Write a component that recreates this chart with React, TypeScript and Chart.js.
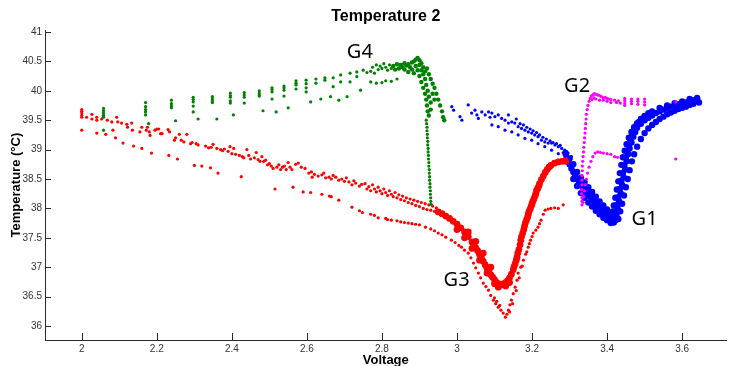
import React, { useEffect, useRef } from 'react';
import { Chart, registerables } from 'chart.js';

Chart.register(...registerables);

type Pt = [number, number];

const xTicks = [2, 2.2, 2.4, 2.6, 2.8, 3, 3.2, 3.4, 3.6];
const yTicks = [36, 36.5, 37, 37.5, 38, 38.5, 39, 39.5, 40, 40.5, 41];

const labelNames = ['G1', 'G2', 'G3', 'G4'];
const labelVolt = [3.5, 3.32, 2.999, 2.741];
const labelTemp = [37.82, 40.08, 36.77, 40.66];

// G3 (red) – upper band, sparse part
const g3Scatter: Pt[] = [
  [2.0, 39.68], [2.0, 39.65], [2.0, 39.62], [2.0, 39.58], [2.0, 39.55],
  [2.013, 39.55], [2.027, 39.6], [2.027, 39.52], [2.04, 39.55], [2.04, 39.5], [2.053, 39.52],
  [2.058, 39.57], [2.068, 39.5], [2.08, 39.47], [2.083, 39.33], [2.093, 39.55], [2.096, 39.47],
  [2.106, 39.45], [2.12, 39.43], [2.122, 39.38], [2.133, 39.45], [2.135, 39.33], [2.155, 39.3],
  [2.16, 39.38], [2.172, 39.33], [2.175, 39.38], [2.18, 39.3], [2.182, 39.24], [2.195, 39.33],
  [2.2, 39.35], [2.205, 39.35], [2.21, 39.27], [2.214, 39.27], [2.23, 39.34], [2.234, 39.3],
  [2.247, 39.16], [2.25, 39.2], [2.26, 39.26], [2.265, 39.16], [2.272, 39.13], [2.28, 39.26],
  [2.29, 39.1], [2.294, 39.12], [2.305, 39.1], [2.31, 39.08], [2.33, 39.06], [2.338, 39.03],
  [2.345, 39.04], [2.35, 39.09], [2.36, 39.02], [2.37, 39.0], [2.375, 38.98], [2.38, 39.01],
  [2.39, 38.97], [2.395, 39.05], [2.4, 38.93], [2.405, 39.02], [2.41, 38.92], [2.42, 38.9],
  [2.428, 38.88], [2.432, 38.86], [2.44, 39.0], [2.445, 38.9], [2.45, 38.84], [2.46, 38.86],
  [2.465, 38.95], [2.47, 38.83], [2.475, 38.8], [2.48, 38.88], [2.485, 38.8], [2.49, 38.82],
  [2.495, 38.74], [2.5, 38.76], [2.505, 38.72], [2.51, 38.68], [2.52, 38.7], [2.525, 38.74],
  [2.53, 38.66], [2.535, 38.7], [2.54, 38.72], [2.545, 38.66], [2.55, 38.78], [2.555, 38.7],
  [2.56, 38.66], [2.57, 38.75], [2.577, 38.77], [2.585, 38.7], [2.595, 38.68], [2.605, 38.6],
  [2.612, 38.62], [2.614, 38.53], [2.62, 38.58], [2.63, 38.55], [2.64, 38.57], [2.645, 38.6],
  [2.65, 38.52], [2.659, 38.53], [2.665, 38.5], [2.67, 38.56], [2.677, 38.53], [2.685, 38.48],
  [2.693, 38.5], [2.7, 38.46], [2.705, 38.52], [2.712, 38.45], [2.72, 38.4], [2.725, 38.47],
  [2.73, 38.43], [2.74, 38.38], [2.746, 38.41], [2.755, 38.42], [2.76, 38.33], [2.765, 38.37],
  [2.77, 38.3], [2.775, 38.4], [2.78, 38.33], [2.785, 38.28], [2.79, 38.36], [2.795, 38.3],
  [2.8, 38.25], [2.805, 38.33], [2.81, 38.27], [2.815, 38.22], [2.82, 38.3], [2.825, 38.24],
  [2.83, 38.2], [2.835, 38.27], [2.84, 38.18], [2.845, 38.23], [2.85, 38.15], [2.855, 38.21],
  [2.86, 38.13], [2.865, 38.18], [2.87, 38.1], [2.875, 38.16], [2.88, 38.08], [2.885, 38.14],
  [2.89, 38.05], [2.895, 38.12], [2.9, 38.03], [2.905, 38.1], [2.91, 38.0], [2.915, 38.08],
  [2.92, 37.98], [2.925, 38.06], [2.93, 37.97], [2.935, 38.04], [2.94, 37.95], [2.945, 38.01],
];

// G3 (red) – lower branch and stray low points
const g3Lower: Pt[] = [
  [2.0, 39.33], [2.04, 39.28], [2.064, 39.26], [2.09, 39.2], [2.11, 39.11], [2.138, 39.06],
  [2.16, 39.02], [2.186, 38.94], [2.232, 38.9], [2.255, 38.84], [2.3, 38.73], [2.32, 38.72],
  [2.343, 38.69], [2.363, 38.6], [2.425, 38.54], [2.515, 38.33], [2.563, 38.36], [2.59, 38.28],
  [2.61, 38.27], [2.64, 38.24], [2.66, 38.21], [2.665, 38.2], [2.685, 38.14], [2.72, 38.02],
  [2.74, 37.96], [2.748, 37.93], [2.77, 37.9], [2.78, 37.88], [2.79, 37.84], [2.81, 37.83],
  [2.815, 37.81], [2.825, 37.8], [2.84, 37.79], [2.85, 37.77], [2.86, 37.76], [2.87, 37.75],
  [2.88, 37.74], [2.89, 37.73], [2.9, 37.72], [2.916, 37.68], [2.93, 37.65], [2.94, 37.62],
  [2.95, 37.58], [2.96, 37.55], [2.97, 37.51], [2.985, 37.46], [2.995, 37.42], [3.005, 37.37],
  [3.012, 37.34], [3.02, 37.29], [3.03, 37.24], [3.037, 37.16], [3.044, 37.07], [3.05, 36.99],
  [3.057, 36.9], [3.063, 36.82], [3.07, 36.73], [3.077, 36.67], [3.084, 36.61], [3.09, 36.52],
  [3.097, 36.44], [3.103, 36.38], [3.11, 36.32], [3.117, 36.27], [3.123, 36.22], [3.129, 36.15],
  [3.133, 36.2], [3.137, 36.27], [3.141, 36.36], [3.145, 36.44], [3.15, 36.55], [3.155, 36.66],
  [3.16, 36.78], [3.163, 36.9], [3.17, 37.0], [3.177, 37.12], [3.183, 37.22], [3.19, 37.34],
  [3.196, 37.46], [3.203, 37.58], [3.21, 37.63], [3.216, 37.68], [3.22, 37.74], [3.224, 37.8],
  [3.23, 37.9], [3.235, 37.97], [3.243, 37.99], [3.25, 38.0], [3.26, 38.01], [3.27, 38.0],
  [3.283, 38.06], [3.1, 36.48], [3.106, 36.42], [3.114, 36.35], [3.14, 36.24], [3.148, 36.38],
  [3.158, 36.6], [3.166, 36.82], [3.174, 37.02], [3.186, 37.26], [3.193, 37.4], [3.2, 37.52],
];

// G3 (red) – dense V band
const g3Band: Pt[] = [
  [2.95, 37.94], [2.96, 37.91], [2.97, 37.87], [2.98, 37.83], [2.99, 37.78], [3.0, 37.73],
  [3.01, 37.67], [3.02, 37.6], [3.03, 37.52], [3.04, 37.43], [3.05, 37.33], [3.06, 37.22],
  [3.07, 37.1], [3.08, 36.98], [3.09, 36.87], [3.1, 36.79], [3.105, 36.74], [3.11, 36.72],
  [3.115, 36.7], [3.12, 36.7], [3.125, 36.72], [3.13, 36.74], [3.135, 36.77], [3.14, 36.82],
  [3.145, 36.88], [3.15, 36.96], [3.155, 37.06], [3.16, 37.17], [3.165, 37.3], [3.17, 37.46],
  [3.175, 37.58], [3.18, 37.7], [3.185, 37.8], [3.19, 37.9], [3.195, 37.99], [3.2, 38.08],
  [3.205, 38.16], [3.21, 38.25], [3.215, 38.34], [3.22, 38.42], [3.225, 38.49], [3.23, 38.55],
  [3.235, 38.61], [3.24, 38.66], [3.245, 38.7], [3.25, 38.73], [3.26, 38.77], [3.27, 38.79],
  [3.28, 38.8], [3.29, 38.8],
  [3.045, 37.38], [3.055, 37.28], [3.065, 37.16], [3.075, 37.04], [3.085, 36.92], [3.095, 36.83],
  [3.152, 37.01], [3.158, 37.12], [3.162, 37.24], [3.168, 37.38], [3.172, 37.52], [3.178, 37.64],
  [3.182, 37.75], [3.188, 37.85], [3.192, 37.95], [3.198, 38.04], [3.202, 38.12], [3.208, 38.21],
  [3.212, 38.3], [3.218, 38.38],
  [3.0, 37.64], [3.02, 37.5], [3.04, 37.32], [3.06, 37.12], [3.08, 36.9], [3.1, 36.72],
  [3.11, 36.66], [3.03, 37.6], [3.05, 37.44], [3.07, 37.24], [3.09, 37.0], [3.13, 36.68],
  [3.14, 36.74],
];

// G4 (green) – sparse columns on the left
const g4Scatter: Pt[] = [
  [2.058, 39.7], [2.058, 39.66], [2.058, 39.62], [2.058, 39.58], [2.058, 39.55], [2.058, 39.33],
  [2.17, 39.8], [2.17, 39.73], [2.17, 39.68], [2.17, 39.64], [2.17, 39.59], [2.178, 39.44],
  [2.239, 39.84], [2.239, 39.78], [2.239, 39.74], [2.239, 39.71], [2.25, 39.49],
  [2.297, 39.89], [2.297, 39.85], [2.297, 39.81], [2.297, 39.74], [2.297, 39.64], [2.31, 39.52],
  [2.348, 39.9], [2.348, 39.86], [2.348, 39.83], [2.348, 39.8], [2.36, 39.52],
  [2.396, 39.96], [2.396, 39.92], [2.396, 39.89], [2.396, 39.83], [2.396, 39.79], [2.404, 39.59],
  [2.433, 39.97], [2.433, 39.93], [2.433, 39.89], [2.433, 39.79],
  [2.473, 40.0], [2.473, 39.96], [2.473, 39.93], [2.473, 39.91], [2.483, 39.66],
  [2.507, 40.05], [2.507, 40.02], [2.507, 39.98], [2.507, 39.86], [2.518, 39.64],
  [2.539, 40.08], [2.539, 40.05], [2.539, 40.01], [2.539, 39.91], [2.55, 39.71],
  [2.571, 40.17], [2.571, 40.13], [2.571, 40.1], [2.571, 40.03],
  [2.598, 40.18], [2.598, 40.12], [2.598, 40.05], [2.598, 39.98], [2.61, 39.81],
  [2.624, 40.2], [2.624, 40.13], [2.637, 39.86], [2.648, 40.18], [2.648, 40.22], [2.663, 39.9],
  [2.67, 40.22], [2.67, 40.07], [2.685, 39.84], [2.69, 40.27], [2.69, 40.15], [2.707, 39.9],
  [2.715, 40.3], [2.715, 40.15], [2.733, 40.32], [2.733, 40.24], [2.743, 40.01],
  [2.75, 40.35], [2.76, 40.31], [2.77, 40.33], [2.775, 40.4], [2.78, 40.3], [2.785, 40.44],
  [2.79, 40.36], [2.795, 40.42], [2.8, 40.38], [2.805, 40.46], [2.81, 40.4], [2.815, 40.35],
  [2.82, 40.44], [2.825, 40.38], [2.77, 40.15], [2.785, 40.13], [2.8, 40.14], [2.81, 40.17],
  [2.825, 40.16], [2.84, 40.2],
];

// G4 (green) – peak cluster
const g4Peak: Pt[] = [
  [2.83, 40.42], [2.835, 40.36], [2.84, 40.45], [2.845, 40.38], [2.85, 40.44], [2.855, 40.4],
  [2.86, 40.47], [2.86, 40.36], [2.865, 40.43], [2.87, 40.45], [2.87, 40.32], [2.875, 40.4],
  [2.88, 40.48], [2.88, 40.36], [2.885, 40.5], [2.885, 40.3], [2.89, 40.53], [2.89, 40.42],
  [2.895, 40.56], [2.895, 40.35], [2.9, 40.52], [2.9, 40.44], [2.9, 40.25], [2.905, 40.47],
  [2.905, 40.35], [2.905, 40.15], [2.91, 40.4], [2.91, 40.28], [2.91, 40.05], [2.915, 40.33],
  [2.915, 40.2], [2.915, 39.95], [2.918, 40.1], [2.918, 39.85], [2.92, 40.38], [2.92, 39.75],
  [2.922, 40.0], [2.922, 39.65], [2.925, 40.28], [2.925, 39.9], [2.925, 39.58], [2.93, 40.2],
  [2.93, 39.8], [2.93, 39.68], [2.935, 40.12], [2.935, 39.95], [2.94, 40.05], [2.94, 39.85],
  [2.945, 39.95], [2.95, 39.85], [2.955, 39.75], [2.96, 39.65], [2.963, 39.55], [2.966, 39.5],
];

// G4 (green) – vertical drop
const g4Drop: Pt[] = [
  [2.918, 39.5], [2.919, 39.44], [2.92, 39.38], [2.92, 39.32], [2.921, 39.26], [2.921, 39.2],
  [2.922, 39.14], [2.922, 39.08], [2.923, 39.02], [2.923, 38.96], [2.924, 38.9], [2.924, 38.84],
  [2.925, 38.78], [2.925, 38.72], [2.926, 38.66], [2.926, 38.6], [2.927, 38.54], [2.927, 38.48],
  [2.928, 38.42], [2.928, 38.36], [2.929, 38.3], [2.929, 38.24], [2.93, 38.18], [2.93, 38.12],
  [2.931, 38.07],
];

// G1 (blue) – sparse upper-left part
const g1Scatter: Pt[] = [
  [2.986, 39.73], [2.991, 39.67], [3.008, 39.56], [3.013, 39.5], [3.03, 39.76], [3.039, 39.62],
  [3.048, 39.67], [3.053, 39.59], [3.057, 39.53], [3.066, 39.64], [3.075, 39.59], [3.084, 39.64],
  [3.088, 39.55], [3.093, 39.62], [3.093, 39.42], [3.101, 39.56], [3.11, 39.59], [3.11, 39.39],
  [3.119, 39.53], [3.128, 39.5], [3.128, 39.33], [3.137, 39.59], [3.137, 39.45], [3.146, 39.47],
  [3.146, 39.3], [3.154, 39.45], [3.158, 39.52], [3.163, 39.39], [3.163, 39.25], [3.168, 39.44],
  [3.172, 39.36], [3.177, 39.42], [3.181, 39.33], [3.181, 39.19], [3.186, 39.38], [3.19, 39.3],
  [3.195, 39.35], [3.199, 39.28], [3.199, 39.16], [3.203, 39.32], [3.207, 39.25], [3.212, 39.29],
  [3.216, 39.22], [3.216, 39.1], [3.22, 39.25], [3.225, 39.16], [3.229, 39.21], [3.234, 39.13],
  [3.234, 39.05], [3.238, 39.18], [3.243, 39.11], [3.248, 39.15], [3.252, 39.11], [3.252, 38.99],
  [3.256, 39.12], [3.261, 39.08], [3.265, 39.1], [3.27, 39.05], [3.27, 38.93], [3.275, 39.07],
  [3.279, 39.02], [3.283, 38.95], [3.287, 38.99], [3.287, 38.85], [3.292, 38.97], [3.296, 38.94],
  [3.3, 38.79], [3.305, 38.88],
];

// G1 (blue) – dense V band
const g1Band: Pt[] = [
  [3.29, 38.92], [3.3, 38.85], [3.3, 38.75], [3.31, 38.75], [3.31, 38.62], [3.31, 38.5],
  [3.32, 38.62], [3.32, 38.5], [3.32, 38.38], [3.33, 38.52], [3.33, 38.4], [3.33, 38.26],
  [3.34, 38.44], [3.34, 38.32], [3.34, 38.18], [3.35, 38.36], [3.35, 38.25], [3.35, 38.1],
  [3.36, 38.28], [3.36, 38.16], [3.36, 38.03], [3.37, 38.2], [3.37, 38.08], [3.37, 37.96],
  [3.38, 38.12], [3.38, 38.01], [3.38, 37.9], [3.39, 38.05], [3.39, 37.96], [3.39, 37.84],
  [3.4, 37.98], [3.4, 37.9], [3.4, 37.8], [3.405, 37.87], [3.41, 37.93], [3.41, 37.83],
  [3.41, 37.75], [3.415, 37.79], [3.418, 37.76],
  [3.295, 38.8], [3.305, 38.68], [3.315, 38.56], [3.325, 38.45], [3.335, 38.36], [3.345, 38.28],
  [3.355, 38.2], [3.365, 38.12], [3.375, 38.05], [3.385, 37.98], [3.395, 37.92], [3.405, 37.8],
  [3.415, 37.86],
  [3.422, 37.8], [3.425, 37.9], [3.428, 38.0], [3.432, 38.12], [3.436, 38.26], [3.44, 38.4],
  [3.444, 38.53], [3.448, 38.66], [3.452, 38.8], [3.456, 38.92], [3.46, 39.02], [3.465, 39.12],
  [3.47, 39.22], [3.475, 39.3], [3.48, 39.37], [3.49, 39.44], [3.5, 39.5], [3.51, 39.54],
  [3.52, 39.58], [3.53, 39.62], [3.54, 39.65], [3.55, 39.68], [3.56, 39.71], [3.57, 39.73],
  [3.58, 39.75], [3.59, 39.77], [3.6, 39.79], [3.61, 39.8], [3.62, 39.82], [3.63, 39.84],
  [3.64, 39.85],
  [3.42, 37.85], [3.424, 37.95], [3.426, 38.06], [3.43, 38.19], [3.434, 38.33], [3.438, 38.47],
  [3.442, 38.6], [3.446, 38.73], [3.45, 38.86], [3.454, 38.97], [3.458, 39.07], [3.462, 39.17],
  [3.468, 39.26], [3.472, 39.34], [3.478, 39.41], [3.485, 39.47], [3.495, 39.53],
  [3.412, 37.85], [3.415, 37.95], [3.418, 38.05], [3.422, 38.18], [3.426, 38.32], [3.43, 38.46],
  [3.434, 38.6], [3.438, 38.74], [3.442, 38.87], [3.447, 38.98], [3.452, 39.09], [3.458, 39.2],
  [3.465, 39.3], [3.472, 39.38], [3.48, 39.45], [3.49, 39.52], [3.5, 39.57], [3.51, 39.62],
  [3.52, 39.65], [3.54, 39.71], [3.56, 39.75], [3.58, 39.79], [3.6, 39.82], [3.62, 39.86],
  [3.64, 39.88],
  [3.43, 37.82], [3.435, 37.95], [3.44, 38.08], [3.445, 38.22], [3.45, 38.36], [3.455, 38.5],
  [3.46, 38.65], [3.466, 38.8], [3.472, 38.92], [3.48, 39.05], [3.49, 39.18], [3.5, 39.28],
  [3.51, 39.36], [3.52, 39.42], [3.53, 39.47], [3.54, 39.52], [3.55, 39.56], [3.56, 39.6],
  [3.57, 39.63], [3.58, 39.66], [3.59, 39.69], [3.6, 39.71], [3.61, 39.73], [3.62, 39.76],
  [3.63, 39.78], [3.645, 39.8],
];

// G2 (magenta)
const g2Points: Pt[] = [
  [3.333, 38.06], [3.333, 38.12], [3.333, 38.18], [3.332, 38.25], [3.332, 38.32], [3.333, 38.4],
  [3.333, 38.48], [3.333, 38.56], [3.334, 38.64], [3.334, 38.72], [3.335, 38.8], [3.336, 38.88],
  [3.337, 38.96], [3.338, 39.04], [3.339, 39.12], [3.34, 39.2], [3.341, 39.28], [3.342, 39.36],
  [3.343, 39.44], [3.344, 39.52], [3.345, 39.6], [3.347, 39.68], [3.349, 39.75], [3.352, 39.82],
  [3.355, 39.87], [3.358, 39.91], [3.362, 39.93], [3.366, 39.95], [3.37, 39.94], [3.375, 39.93],
  [3.38, 39.92], [3.385, 39.9], [3.39, 39.88], [3.395, 39.89], [3.4, 39.87], [3.405, 39.86],
  [3.41, 39.85], [3.36, 39.85], [3.365, 39.88], [3.37, 39.86], [3.38, 39.84], [3.39, 39.84],
  [3.4, 39.82], [3.41, 39.8], [3.42, 39.84], [3.425, 39.8], [3.43, 39.83], [3.435, 39.79],
  [3.447, 39.87], [3.447, 39.83], [3.447, 39.79], [3.447, 39.75],
  [3.465, 39.86], [3.465, 39.82], [3.465, 39.78],
  [3.482, 39.86], [3.482, 39.82], [3.482, 39.77],
  [3.5, 39.86], [3.5, 39.81], [3.5, 39.76],
  [3.336, 38.1], [3.338, 38.2], [3.34, 38.3], [3.342, 38.4], [3.345, 38.5], [3.348, 38.6],
  [3.352, 38.7], [3.357, 38.8], [3.362, 38.88], [3.368, 38.94], [3.375, 38.96], [3.382, 38.95],
  [3.39, 38.94], [3.4, 38.93], [3.41, 38.92], [3.42, 38.88], [3.428, 38.87],
  [3.583, 39.81], [3.583, 38.84],
];

const FONT = '"Liberation Sans", Arial, sans-serif';
const RED = '#ff0000';
const GREEN = '#008000';
const BLUE = '#0000ff';
const MAGENTA = '#ff00ff';

const toXY = (pts: Pt[]) => pts.map(([x, y]) => ({ x, y }));

const ds = (label: string, pts: Pt[], color: string, r: number) => ({
  label,
  data: toXY(pts),
  backgroundColor: color,
  borderColor: color,
  borderWidth: 0,
  pointRadius: r,
  pointHoverRadius: r,
  pointStyle: 'circle' as const,
});

const overlay = {
  id: 'overlay',
  afterDraw(chart: any) {
    const { ctx, chartArea, scales } = chart;
    const x = scales.x;
    const y = scales.y;
    ctx.save();
    ctx.strokeStyle = '#2b2b2b';
    ctx.lineWidth = 1;
    ctx.beginPath();
    xTicks.forEach((v) => {
      const px = Math.round(x.getPixelForValue(v)) + 0.5;
      ctx.moveTo(px, chartArea.bottom);
      ctx.lineTo(px, chartArea.bottom - 7);
    });
    yTicks.forEach((v) => {
      const py = Math.round(y.getPixelForValue(v)) + 0.5;
      ctx.moveTo(chartArea.left, py);
      ctx.lineTo(chartArea.left + 6, py);
    });
    ctx.stroke();
    ctx.fillStyle = '#000';
    ctx.font = '20px "Noto Sans", sans-serif';
    ctx.textAlign = 'center';
    ctx.textBaseline = 'middle';
    labelNames.forEach((t, i) => {
      ctx.fillText(t, x.getPixelForValue(labelVolt[i]), y.getPixelForValue(labelTemp[i]));
    });
    ctx.restore();
  },
};

export default function App() {
  const ref = useRef<HTMLCanvasElement | null>(null);

  useEffect(() => {
    if (!ref.current) return;
    const chart = new Chart(ref.current, {
      type: 'scatter',
      data: {
        datasets: [
          ds('G2', g2Points, MAGENTA, 1.6),
          ds('G4 drop', g4Drop, GREEN, 1.6),
          ds('G4 peak', g4Peak, GREEN, 2.2),
          ds('G4', g4Scatter, GREEN, 1.6),
          ds('G3 band', g3Band, RED, 3.4),
          ds('G3', g3Scatter, RED, 1.6),
          ds('G3 lower', g3Lower, RED, 1.6),
          ds('G1 band', g1Band, BLUE, 3.2),
          ds('G1', g1Scatter, BLUE, 1.6),
        ] as any,
      },
      options: {
        responsive: false,
        animation: false,
        events: [],
        layout: { padding: { left: 0, right: 1, top: 0, bottom: 0 } },
        plugins: {
          legend: { display: false },
          tooltip: { enabled: false },
          title: {
            display: true,
            text: 'Temperature 2',
            fullSize: false,
            color: '#000',
            font: { family: FONT, size: 16, weight: 'bold' },
            padding: { top: 7, bottom: 4 },
          },
        },
        scales: {
          x: {
            type: 'linear',
            min: 1.902,
            max: 3.7185,
            afterFit: (s: any) => { s.height = 26; },
            afterBuildTicks: (s: any) => { s.ticks = xTicks.map((v) => ({ value: v })); },
            grid: { display: false, drawTicks: false, tickLength: 0 },
            border: { display: true, color: '#2b2b2b', width: 1 },
            ticks: {
              font: { family: FONT, size: 10 },
              color: '#333',
              padding: 3,
              maxRotation: 0,
              autoSkip: false,
              callback: (v: any) => String(+Number(v).toFixed(1)),
            },
            title: {
              display: true,
              text: 'Voltage',
              color: '#000',
              font: { family: FONT, size: 13, weight: 'bold' },
              padding: { top: 0, bottom: -2.5 },
            },
          },
          y: {
            type: 'linear',
            min: 35.762,
            max: 41.03,
            afterFit: (s: any) => { s.width = 45; },
            afterBuildTicks: (s: any) => { s.ticks = yTicks.map((v) => ({ value: v })); },
            grid: { display: false, drawTicks: false, tickLength: 0 },
            border: { display: true, color: '#2b2b2b', width: 1 },
            ticks: {
              font: { family: FONT, size: 10 },
              color: '#333',
              padding: 3,
              autoSkip: false,
              callback: (v: any) => String(+Number(v).toFixed(1)),
            },
            title: {
              display: true,
              text: 'Temperature (°C)',
              color: '#000',
              font: { family: FONT, size: 13, weight: 'bold' },
              padding: { top: 9, bottom: 0 },
            },
          },
        },
      } as any,
      plugins: [overlay],
    });
    return () => chart.destroy();
  }, []);

  return (
    <div style={{ position: 'absolute', left: 0, top: 0, width: 730, height: 366, background: '#fff' }}>
      <canvas ref={ref} width={730} height={366} style={{ display: 'block', width: 730, height: 366 }} />
    </div>
  );
}
